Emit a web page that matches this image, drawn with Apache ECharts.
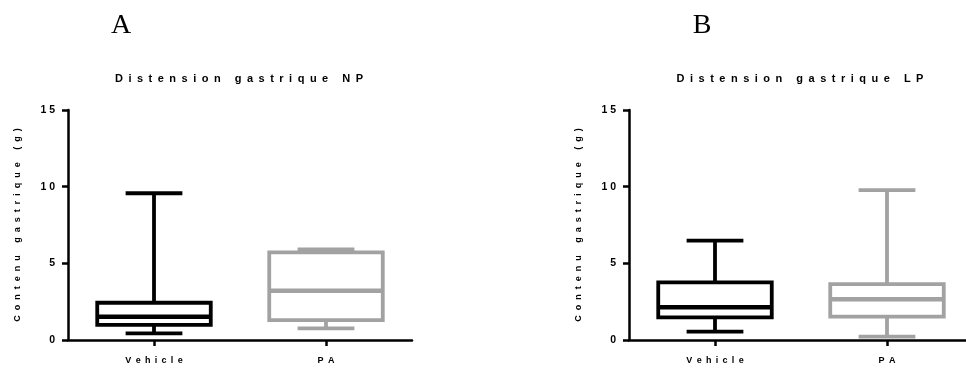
<!DOCTYPE html>
<html>
<head>
<meta charset="utf-8">
<script src="https://cdn.jsdelivr.net/npm/echarts@6/dist/echarts.min.js"></script>
<style>
  html, body { margin: 0; padding: 0; background: #fff; }
  #chart { width: 966px; height: 370px; }
</style>
</head>
<body>
<div id="chart"></div>
<script>
// Groups on the x axis
const groups = ['Vehicle', 'PA'];

// Box summaries: [min, Q1, median, Q3, max] in grams
const npVehicle = [0.43, 0.98, 1.52, 2.43, 9.57];
const npPA      = [0.76, 1.30, 3.22, 5.72, 5.91];
const lpVehicle = [0.54, 1.48, 2.13, 3.76, 6.48];
const lpPA      = [0.22, 1.52, 2.65, 3.65, 9.78];

// Y axis range and step
const yMin = 0;
const yMax = 15;
const yStep = 5;

const panelLetters = ['A', 'B'];
const panelTitles = ['Distension gastrique NP', 'Distension gastrique LP'];
const yAxisTitle = 'Contenu gastrique (g)';

const boxColors = ['#000000', '#a2a2a2'];
const sans = 'Liberation Sans, Arial, sans-serif';

// Wide tracking, as in the printed figure
const spread = (s, gap) => s.split('').join(gap);

function renderBox(params, api) {
  const idx = api.value(0);
  const lo  = api.coord([idx, api.value(1)]);
  const q1  = api.coord([idx, api.value(2)]);
  const med = api.coord([idx, api.value(3)]);
  const q3  = api.coord([idx, api.value(4)]);
  const hi  = api.coord([idx, api.value(5)]);
  const band = api.size([1, 0])[0];
  const boxHalf = band * 0.33;
  const capHalf = band * 0.165;
  const x = q1[0];
  const color = boxColors[idx];
  const lw = 3.8;
  const line = (x1, y1, x2, y2, w) => ({
    type: 'line',
    shape: { x1, y1, x2, y2 },
    style: { stroke: color, lineWidth: w || lw, fill: null }
  });
  return {
    type: 'group',
    children: [
      {
        type: 'rect',
        shape: { x: x - boxHalf, y: q3[1], width: boxHalf * 2, height: q1[1] - q3[1] },
        style: { stroke: color, lineWidth: lw, fill: 'none' }
      },
      line(x - boxHalf, med[1], x + boxHalf, med[1], 4.5),
      line(x, q3[1], x, hi[1]),
      line(x, q1[1], x, lo[1]),
      line(x - capHalf, hi[1], x + capHalf, hi[1]),
      line(x - capHalf, lo[1], x + capHalf, lo[1])
    ]
  };
}

const toRows = (a, b) => [[0].concat(a), [1].concat(b)];

const gridLefts = [68, 629];

const axisBase = {
  axisLine: { show: true, lineStyle: { color: '#000', width: 2.5 } },
  axisTick: { show: true, length: 6, lineStyle: { color: '#000', width: 2.5 } },
  splitLine: { show: false }
};

const option = {
  animation: false,
  backgroundColor: '#fff',
  title: [0, 1].map(i => [
    {
      text: panelLetters[i],
      left: [121, 702][i], top: 12, textAlign: 'center', padding: 0,
      textStyle: { fontFamily: 'Liberation Serif, Times New Roman, serif', fontWeight: 'normal', fontSize: 28, color: '#000' }
    },
    {
      text: spread(panelTitles[i], '\u2002'),
      left: [239, 800][i], top: 73, textAlign: 'center', padding: 0,
      textStyle: { fontFamily: sans, fontWeight: 'bold', fontSize: 11, color: '#000' }
    }
  ]).flat(),
  grid: gridLefts.map(l => ({
    left: l, top: 110, width: 344, height: 230,
    containLabel: false, outerBoundsMode: 'none'
  })),
  xAxis: [0, 1].map(i => Object.assign({}, axisBase, {
    type: 'category',
    gridIndex: i,
    data: groups,
    axisTick: { show: true, alignWithLabel: true, length: 6, lineStyle: { color: '#000', width: 2.5 } },
    axisLabel: {
      margin: 16, color: '#000', fontFamily: sans, fontWeight: 'bold', fontSize: 9,
      formatter: v => spread(v, ' \u2009')
    }
  })),
  yAxis: [0, 1].map(i => Object.assign({}, axisBase, {
    type: 'value',
    gridIndex: i,
    min: yMin, max: yMax, interval: yStep,
    name: spread(yAxisTitle, '  '),
    nameLocation: 'middle',
    nameGap: 46,
    nameRotate: 90,
    nameTextStyle: { color: '#000', fontFamily: sans, fontWeight: 'bold', fontSize: 9 },
    axisLabel: {
      margin: 13, color: '#000', fontFamily: sans, fontWeight: 'bold', fontSize: 10.5,
      formatter: v => spread(String(v), ' ')
    }
  })),
  series: [
    { type: 'custom', xAxisIndex: 0, yAxisIndex: 0, clip: false, renderItem: renderBox,
      encode: { x: 0, y: [1, 2, 3, 4, 5] }, data: toRows(npVehicle, npPA) },
    { type: 'custom', xAxisIndex: 1, yAxisIndex: 1, clip: false, renderItem: renderBox,
      encode: { x: 0, y: [1, 2, 3, 4, 5] }, data: toRows(lpVehicle, lpPA) }
  ]
};

echarts.init(document.getElementById('chart'), null, { renderer: 'canvas' }).setOption(option);
</script>
</body>
</html>
